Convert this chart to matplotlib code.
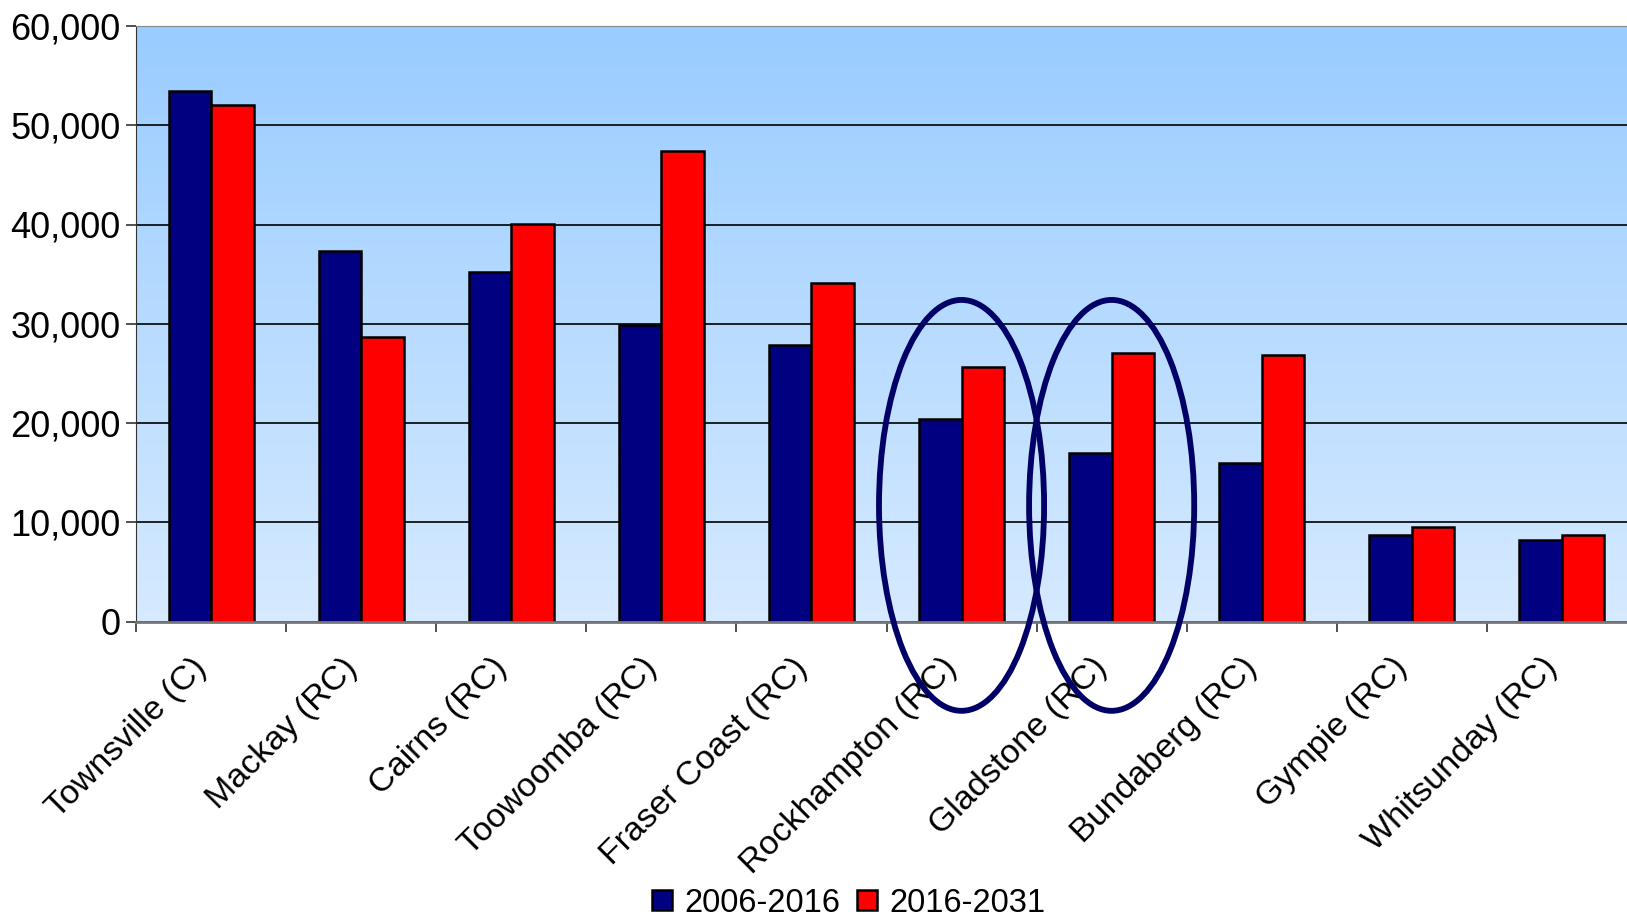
import matplotlib.pyplot as plt
import numpy as np
from matplotlib.colors import LinearSegmentedColormap
from matplotlib.patches import Ellipse
from matplotlib.transforms import ScaledTranslation

plt.rcParams['font.family'] = ['Liberation Sans', 'DejaVu Sans']

regions = ['Townsville (C)', 'Mackay (RC)', 'Cairns (RC)', 'Toowoomba (RC)',
           'Fraser Coast (RC)', 'Rockhampton (RC)', 'Gladstone (RC)',
           'Bundaberg (RC)', 'Gympie (RC)', 'Whitsunday (RC)']
growth_2006_2016 = [53500, 37300, 35200, 29900, 27900, 20400, 17000, 16000, 8700, 8200]
growth_2016_2031 = [52000, 28700, 40100, 47400, 34100, 25600, 27100, 26900, 9500, 8700]
series_names = ['2006-2016', '2016-2031']
circled = ['Rockhampton (RC)', 'Gladstone (RC)']

fig = plt.figure(figsize=(16.27, 9.17), dpi=100)
ax = fig.add_axes([136 / 1627, 1 - 621.5 / 917, 1501 / 1627, (621.5 - 26) / 917])

# gradient background
grad = LinearSegmentedColormap.from_list('bg', ['#D6EAFF', '#99CCFF'])
ax.imshow(np.linspace(0, 1, 256).reshape(-1, 1), cmap=grad, origin='lower',
          aspect='auto', extent=[0, 1, 0, 1], transform=ax.transAxes, zorder=0)

x = np.arange(len(regions))
w = 0.283
ax.bar(x - w / 2, growth_2006_2016, w, color='#000080', edgecolor='black',
       linewidth=1.8, label=series_names[0], zorder=3)
ax.bar(x + w / 2, growth_2016_2031, w, color='#FF0000', edgecolor='black',
       linewidth=1.8, label=series_names[1], zorder=3)

ax.set_xlim(-0.5, len(regions) - 0.5)
ax.set_ylim(0, 60000)
ax.set_yticks(range(0, 60001, 10000))
ax.set_yticklabels([f'{v:,}' for v in range(0, 60001, 10000)], fontsize=26)
ax.yaxis.grid(True, color='black', linewidth=1.2, zorder=1)
ax.set_axisbelow(False)

ax.set_xticks(np.arange(len(regions) + 1) - 0.5, minor=False)
ax.set_xticklabels([])
ax.set_xticks(x, minor=True)
ax.set_xticklabels(regions, minor=True, rotation=45, ha='right',
                   rotation_mode='anchor', fontsize=24.5)
ax.tick_params(axis='x', which='minor', length=0, pad=22)
ax.tick_params(axis='x', which='major', length=7, color='#333333', width=1.2)
ax.tick_params(axis='y', length=7, color='#333333', width=1.2, pad=4)
shift = ScaledTranslation(-20 / 100, 0, fig.dpi_scale_trans)
for lbl in ax.get_xticklabels(minor=True):
    lbl.set_transform(lbl.get_transform() + shift)

for side in ['top', 'right']:
    ax.spines[side].set_color('#888888')
ax.spines['left'].set_color('#333333')
ax.spines['bottom'].set_color('#777777')
ax.spines['bottom'].set_linewidth(2)
for s in ax.spines.values():
    s.set_zorder(4)

# highlight ellipses
for name in circled:
    i = regions.index(name)
    ax.add_patch(Ellipse((i, 11700), 1.1, 41400, fill=False, edgecolor='#000066',
                         linewidth=4.2, clip_on=False, zorder=5))

ax.legend(loc='center', bbox_to_anchor=(849 / 1627, 1 - 903 / 917),
          bbox_transform=fig.transFigure, ncol=2, frameon=False, fontsize=23.5,
          handlelength=0.6, handleheight=0.6, handletextpad=0.4, columnspacing=0.5)

fig.savefig('out.png', dpi=100)
